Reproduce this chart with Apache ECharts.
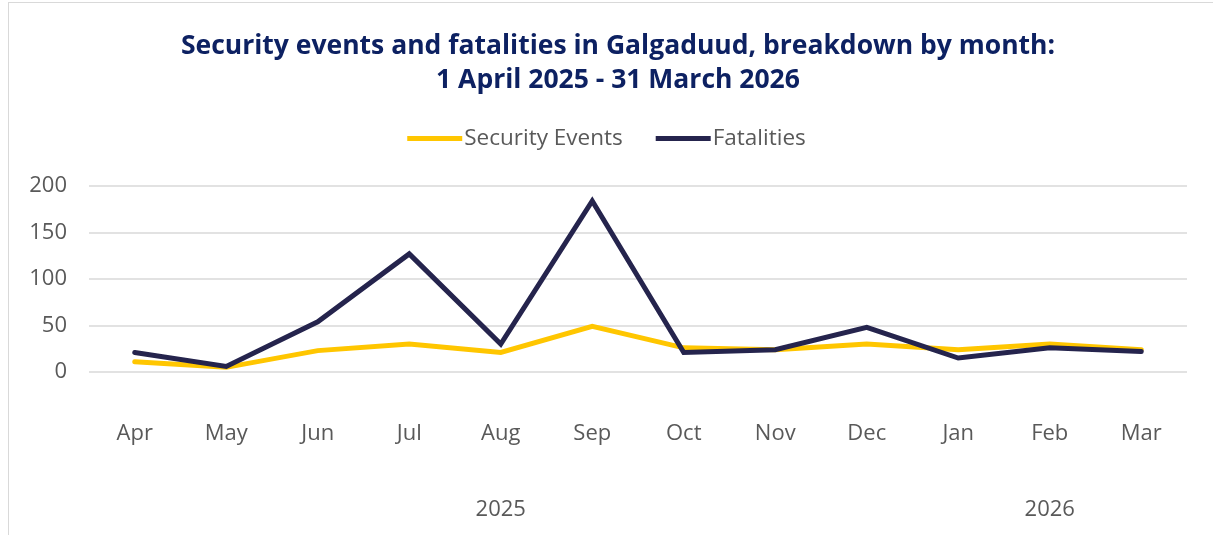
<!DOCTYPE html>
<html>
<head>
<meta charset="utf-8">
<script src="https://cdn.jsdelivr.net/npm/echarts@6/dist/echarts.min.js"></script>
<style>
    html, body { margin: 0; padding: 0; background: #fff; }
    .frame { position: absolute; left: 8px; top: 2px; width: 1300px; height: 600px; border-left: 1px solid #d9d9d9; border-top: 1px solid #d9d9d9; }
    .chart { position: absolute; left: 0; top: 0; width: 1213px; height: 535px; }
</style>
</head>
<body>
<div class="frame"></div>
<div class="chart"></div>
<script>
(function () {
    let months = ['Apr', 'May', 'Jun', 'Jul', 'Aug', 'Sep', 'Oct', 'Nov', 'Dec', 'Jan', 'Feb', 'Mar']
    let securityEvents = [11, 5, 23, 30, 21, 49, 26, 24, 30, 24, 30, 24]
    let fatalities = [21, 6, 54, 127, 30, 184, 21, 24, 48, 15, 26, 22]
    let years = ['2025', '2026']
    let yearSpans = [9, 3] // months under each year

    // year labels sit at the centre of their month span (half-month slots)
    let yearSlots = new Array(months.length * 2 + 1).fill('')
    let start = 0
    years.forEach((y, i) => {
        yearSlots[start * 2 + yearSpans[i]] = y
        start += yearSpans[i]
    })

    let chart = echarts.init(document.querySelector('.chart'))
    let font = '"Open Sans", "Noto Sans", sans-serif'
    let grey = '#595959'

    let option = {
        backgroundColor: 'transparent',
        textStyle: { fontFamily: font },
        title: {
            text: 'Security events and fatalities in Galgaduud, breakdown by month:\n1 April 2025 - 31 March 2026',
            left: 613,
            top: 24,
            textAlign: 'center',
            textStyle: {
                fontFamily: font,
                fontSize: 26.5,
                fontWeight: 'bold',
                color: '#0d2162',
                lineHeight: 34
            }
        },
        legend: {
            top: 122,
            left: 'center',
            icon: 'rect',
            itemWidth: 55,
            itemHeight: 5,
            itemGap: 33,
            textStyle: { fontSize: 22.5, color: grey, fontFamily: font, padding: [0, 0, 0, -3] },
            data: ['Security Events', 'Fatalities']
        },
        grid: {
            left: 89,
            right: 26,
            top: 186,
            bottom: 163,
            containLabel: false
        },
        xAxis: [{
            type: 'category',
            data: months,
            boundaryGap: true,
            axisLine: { show: false },
            axisTick: { show: false },
            axisLabel: { fontSize: 22, color: grey, margin: 51, fontFamily: font }
        }, {
            type: 'category',
            data: yearSlots,
            boundaryGap: false,
            position: 'bottom',
            axisLine: { show: false },
            axisTick: { show: false },
            axisLabel: { fontSize: 22, color: grey, margin: 127, interval: 0, fontFamily: font }
        }],
        yAxis: {
            type: 'value',
            min: 0,
            max: 200,
            interval: 50,
            axisLine: { show: false },
            axisTick: { show: false },
            axisLabel: { fontSize: 22, color: grey, margin: 22, fontFamily: font },
            splitLine: { lineStyle: { color: '#d9d9d9', width: 1.5 } }
        },
        series: [{
            name: 'Security Events',
            type: 'line',
            data: securityEvents,
            symbol: 'none',
            itemStyle: { color: '#ffc600' },
            lineStyle: { width: 5, color: '#ffc600', cap: 'round', join: 'miter' }
        }, {
            name: 'Fatalities',
            type: 'line',
            data: fatalities,
            symbol: 'none',
            itemStyle: { color: '#25244d' },
            lineStyle: { width: 5, color: '#25244d', cap: 'round', join: 'miter' }
        }]
    }

    chart.setOption(option)
    window.addEventListener('resize', function () {
        chart.resize()
    })
})()
</script>
</body>
</html>
